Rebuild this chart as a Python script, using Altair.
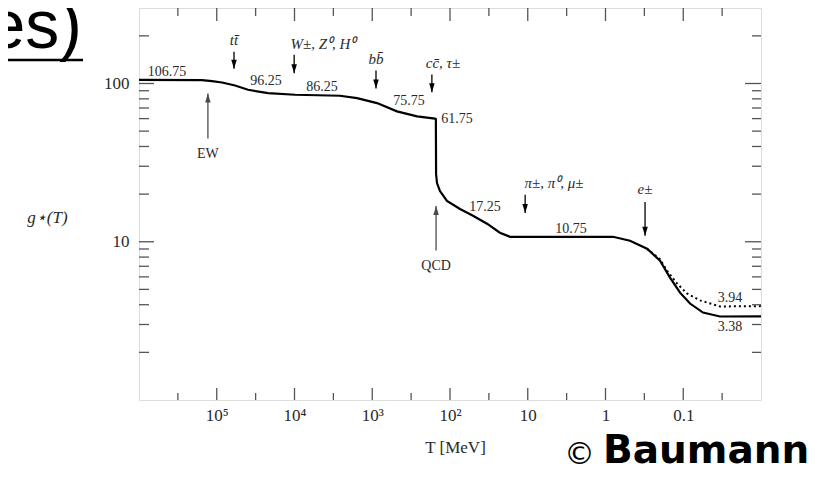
import altair as alt
import pandas as pd

# ---- solid curve g*(T) ----
T_solid = [1.0e6, 1.55e5, 1.15e5, 8.55e4, 5.82e4, 3.96e4, 2.19e4, 9.86e3, 2.60e3, 1.57e3,
           869, 481, 265, 156, 152, 151, 147, 134.6, 109.4, 74.3,
           50.6, 33.4, 22.8, 16.9, 12.6, 0.80, 0.484, 0.292, 0.199, 0.148,
           0.110, 0.0818, 0.0557, 0.0337, 0.01]
g_solid = [105.5, 105.0, 103.5, 101.5, 97.1, 91.3, 86.9, 84.9, 83.7, 80.8,
           75.2, 66.7, 62.0, 60.0, 59.6, 26.8, 23.5, 20.9, 18.1, 16.1,
           14.6, 13.0, 11.4, 10.75, 10.75, 10.75, 10.15, 9.04, 7.6, 5.94,
           4.77, 4.07, 3.57, 3.37, 3.38]

# ---- dotted curve g*S(T) ----
T_dot = [0.292, 0.199, 0.162, 0.120, 0.0895, 0.0608, 0.0337, 0.01]
g_dot = [9.04, 7.75, 6.57, 5.44, 4.71, 4.26, 3.90, 3.92]

# ---- plateau value labels ----
val_text = ["106.75", "96.25", "86.25", "75.75", "61.75", "17.25", "10.75", "3.94", "3.38"]
val_T = [4.37e5, 2.33e4, 4.43e3, 336, 81.3, 35.5, 2.78, 0.0251, 0.0251]
val_g = [119, 104, 95.7, 77.1, 59.4, 16.6, 12.1, 4.44, 2.88]

# ---- particle annihilation arrows (pointing down) ----
part_text = ["tt\u0304", "W\u00b1, Z\u2070, H\u2070", "bb\u0304", "cc\u0304, \u03c4\u00b1",
             "\u03c0\u00b1, \u03c0\u2070, \u03bc\u00b1", "e\u00b1"]
part_label_T = [6.0e4, 4.3e3, 895, 123, 4.6, 0.31]
part_label_g = [189, 178, 143, 135.5, 23.5, 21.5]
arrow_T = [6.0e4, 1.01e4, 895, 171, 10.8, 0.31]
arrow_top = [159, 152, 121, 114, 19.8, 17.8]
arrow_tip = [124, 116, 93, 88, 15.2, 10.9]

# ---- transitions (arrows pointing up) ----
trans_text = ["EW", "QCD"]
trans_T = [1.30e5, 151]
trans_bottom = [45, 8.8]
trans_tip = [86.5, 16.8]
trans_label_g = [35.8, 7.06]

# ---- axis ticks ----
x_major = [1e5, 1e4, 1e3, 1e2, 10, 1, 0.1]
x_labels = ["10\u2075", "10\u2074", "10\u00b3", "10\u00b2", "10", "1", "0.1"]
x_minor = [316228, 31623, 3162.3, 316.23, 31.623, 3.1623, 0.31623, 0.031623]
y_major = [10, 100]
y_minor = [2, 3, 4, 5, 6, 7, 8, 9, 20, 30, 40, 50, 60, 70, 80, 90, 200]

W, H = 622, 392
FRAME = "#555555"
TXT = "#2a2a2a"
SERIF = "Liberation Serif"

xscale = alt.Scale(type="log", domain=[0.01, 1e6], reverse=True)
yscale = alt.Scale(type="log", domain=[1, 300])

label_expr = " : ".join(
    f"datum.value == {v} ? '{l}'" for v, l in zip(x_major[:-1], x_labels[:-1])
) + f" : '{x_labels[-1]}'"

x_axis = alt.Axis(values=x_major, labelExpr=label_expr, ticks=False, domain=False, grid=False,
                  labelFont=SERIF, labelFontSize=17, labelColor=TXT, labelPadding=7,
                  title="T [MeV]", titleFont=SERIF, titleFontSize=17, titleFontWeight="normal",
                  titleColor=TXT, titleX=316, titleY=47, titleBaseline="middle")
y_axis = alt.Axis(values=y_major, labelExpr="'' + datum.value", ticks=False, domain=False, grid=False,
                  labelFont=SERIF, labelFontSize=17, labelColor=TXT, labelPadding=10,
                  title="g\u22c6(T)", titleFont=SERIF, titleFontSize=17, titleFontWeight="normal",
                  titleFontStyle="italic", titleColor=TXT, titleAngle=0, titleX=-92, titleY=209,
                  titleAlign="center", titleBaseline="middle")


def xa(f="T:Q"):
    return alt.X(f, scale=xscale, axis=x_axis)


def ya(f="g:Q"):
    return alt.Y(f, scale=yscale, axis=y_axis)


df_solid = pd.DataFrame({"T": T_solid, "g": g_solid, "i": range(len(T_solid))})
df_dot = pd.DataFrame({"T": T_dot, "g": g_dot, "i": range(len(T_dot))})

solid = alt.Chart(df_solid).mark_line(color="black", strokeWidth=2.2).encode(
    x=xa(), y=ya(), order="i:Q")
dotted = alt.Chart(df_dot).mark_line(color="black", strokeWidth=2, strokeDash=[2, 3]).encode(
    x=xa(), y=ya(), order="i:Q")

# ticks drawn inside the frame
df_ymaj = pd.DataFrame({"g": y_major})
df_ymin = pd.DataFrame({"g": y_minor})
df_xmaj = pd.DataFrame({"T": x_major})
df_xmin = pd.DataFrame({"T": x_minor})
tick = dict(color=FRAME, strokeWidth=1.3)
ticks = [
    alt.Chart(df_ymaj).mark_rule(**tick).encode(y=ya(), x=alt.value(0), x2=alt.value(15)),
    alt.Chart(df_ymaj).mark_rule(**tick).encode(y=ya(), x=alt.value(W - 16), x2=alt.value(W)),
    alt.Chart(df_ymin).mark_rule(**tick).encode(y=ya(), x=alt.value(0), x2=alt.value(10)),
    alt.Chart(df_ymin).mark_rule(**tick).encode(y=ya(), x=alt.value(W - 9), x2=alt.value(W)),
    alt.Chart(df_xmaj).mark_rule(**tick).encode(x=xa(), y=alt.value(H), y2=alt.value(H - 12)),
    alt.Chart(df_xmaj).mark_rule(**tick).encode(x=xa(), y=alt.value(0), y2=alt.value(13)),
    alt.Chart(df_xmin).mark_rule(**tick).encode(x=xa(), y=alt.value(H), y2=alt.value(H - 7)),
    alt.Chart(df_xmin).mark_rule(**tick).encode(x=xa(), y=alt.value(0), y2=alt.value(8)),
]

df_vals = pd.DataFrame({"T": val_T, "g": val_g, "t": val_text})
vals = alt.Chart(df_vals).mark_text(font=SERIF, fontSize=14, color=TXT).encode(
    x=xa(), y=ya(), text="t:N")

df_plab = pd.DataFrame({"T": part_label_T, "g": part_label_g, "t": part_text})
plabs = alt.Chart(df_plab).mark_text(font=SERIF, fontSize=15, fontStyle="italic", color=TXT).encode(
    x=xa(), y=ya(), text="t:N")

df_arr = pd.DataFrame({"T": arrow_T, "g": arrow_top, "g2": arrow_tip})
down_shaft = alt.Chart(df_arr).mark_rule(color="black", strokeWidth=1.3).encode(
    x=xa(), y=ya(), y2="g2:Q")
down_head = alt.Chart(df_arr).mark_point(
    shape="M-0.55,-1.8L0.55,-1.8L0,0Z", filled=True, size=100, color="black", opacity=1).encode(
    x=xa(), y=ya("g2:Q"))

df_tr = pd.DataFrame({"T": trans_T, "g": trans_bottom, "g2": trans_tip,
                      "gl": trans_label_g, "t": trans_text})
up_shaft = alt.Chart(df_tr).mark_rule(color="#6e6e6e", strokeWidth=1.6).encode(
    x=xa(), y=ya(), y2="g2:Q")
up_head = alt.Chart(df_tr).mark_point(
    shape="M-0.55,1.8L0.55,1.8L0,0Z", filled=True, size=100, color="#4a4a4a", opacity=1).encode(
    x=xa(), y=ya("g2:Q"))
tr_labs = alt.Chart(df_tr).mark_text(font=SERIF, fontSize=14, color=TXT).encode(
    x=xa(), y=ya("gl:Q"), text="t:N")

# slide fragments around the figure
df_one = pd.DataFrame({"t": ["es)"]})
slide_title = alt.Chart(df_one).mark_text(
    font="Liberation Sans", fontSize=68, align="right", baseline="alphabetic", color="black").encode(
    text="t:N", x=alt.value(-57), y=alt.value(40))
slide_line = alt.Chart(df_one).mark_rule(color="black", strokeWidth=2.5).encode(
    x=alt.value(-140), x2=alt.value(-56), y=alt.value(52))
df_c1 = pd.DataFrame({"t": ["\u00a9"]})
credit_c = alt.Chart(df_c1).mark_text(
    font="DejaVu Sans", fontSize=31, align="left", baseline="bottom",
    color="black").encode(text="t:N", x=alt.value(425), y=alt.value(463))
df_c2 = pd.DataFrame({"t": ["Baumann"]})
credit_n = alt.Chart(df_c2).mark_text(
    font="DejaVu Sans", fontSize=39, fontWeight="bold", align="left", baseline="bottom",
    color="black").encode(text="t:N", x=alt.value(464), y=alt.value(463))

chart = alt.layer(
    solid, dotted, *ticks, vals, plabs, down_shaft, down_head, up_shaft, up_head, tr_labs,
    slide_title, slide_line, credit_c, credit_n
).properties(
    width=W, height=H,
    padding={"left": 131, "top": 0, "right": 70, "bottom": 72},
    autosize=alt.AutoSizeParams(type="none"),
).configure_view(stroke=FRAME, strokeWidth=1.5).configure(background="white")

chart.save("out.html", embed_options={"renderer": "svg", "actions": False})
